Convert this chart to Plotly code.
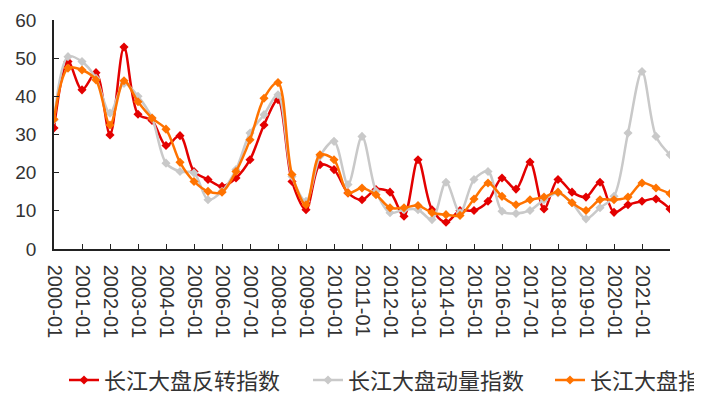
import plotly.graph_objects as go

# semi-annual periods, 2000-01 .. 2022-01
periods = []
for y in range(2000, 2022):
    periods.append(f"{y}-01")
    periods.append(f"{y}-07")
periods.append("2022-01")

tick_labels = [f"{y}-01" for y in range(2000, 2022)]

reversal = [31.7, 49.1, 41.7, 46.2, 29.9, 52.9, 35.3, 33.7, 27.1, 29.7,
            20.3, 18.2, 16.4, 18.6, 23.4, 32.5, 39.1, 17.7, 10.3, 22.1,
            20.8, 14.7, 12.9, 15.6, 14.9, 8.6, 23.4, 10.3, 7.0, 10.1,
            10.1, 12.5, 18.6, 15.7, 22.8, 10.5, 18.2, 14.9, 13.6, 17.5,
            9.6, 11.6, 12.5, 13.1, 10.5]

momentum = [33.8, 50.4, 49.1, 44.7, 35.6, 43.4, 40.0, 34.3, 22.5, 20.3,
            19.9, 12.9, 15.1, 20.8, 30.4, 35.2, 40.4, 19.0, 12.5, 24.3,
            28.2, 16.9, 29.5, 15.1, 9.5, 10.3, 10.3, 7.7, 17.5, 9.5,
            18.2, 20.3, 9.9, 9.3, 10.1, 12.9, 14.7, 12.1, 7.9, 10.8,
            13.8, 30.4, 46.5, 29.5, 24.7]

bigcap = [34.0, 47.4, 46.9, 44.3, 32.5, 44.1, 38.6, 34.3, 31.4, 22.7,
          17.7, 15.1, 14.9, 20.3, 28.6, 39.5, 43.6, 19.5, 11.6, 24.7,
          23.4, 14.7, 16.0, 14.2, 10.8, 10.8, 11.4, 9.5, 9.0, 8.8,
          13.1, 17.3, 13.8, 11.6, 12.9, 13.6, 14.9, 12.1, 10.1, 12.9,
          12.9, 13.6, 17.3, 16.0, 14.5]

series_names = ["长江大盘反转指数", "长江大盘动量指数", "长江大盘指数"]
series_colors = ["#E30000", "#C9C9C9", "#FF7300"]

x = list(range(len(periods)))
tickvals = [periods.index(t) for t in tick_labels] + [len(periods) - 1]
ticktext = tick_labels + [""]

fig = go.Figure()
legend_ids = ["legend", "legend2", "legend3"]
for name, vals, col, lg in zip(series_names, [reversal, momentum, bigcap], series_colors, legend_ids):
    fig.add_trace(go.Scatter(
        x=x, y=vals, name=name, mode="lines+markers",
        line=dict(color=col, width=2.5, shape="spline", smoothing=0.9),
        marker=dict(symbol="diamond", size=7, color=col),
        customdata=periods, legend=lg,
        hovertemplate="%{customdata}: %{y}<extra>" + name + "</extra>",
    ))

# the page body adds an 8px offset; size the figure to fit the window
OFF = 8
W, H = 702 - OFF, 399 - OFF
ml, mr, mt, mb = 54 - OFF, 32, 20 - OFF, 149.5
pw = W - ml - mr
ph = H - mt - mb

def px_to_paper_x(px):
    return (px - OFF - ml) / pw

def px_to_paper_y(py):
    return (H - mb - (py - OFF)) / ph

legend_font = dict(family="Noto Sans CJK SC", size=22, color="#333333")
common = dict(orientation="h", xanchor="left", yanchor="middle",
              font=legend_font, bgcolor="rgba(0,0,0,0)", borderwidth=0,
              itemwidth=30, tracegroupgap=0)

fig.update_layout(
    width=W, height=H,
    margin=dict(l=ml, r=mr, t=mt, b=mb, autoexpand=False),
    paper_bgcolor="white", plot_bgcolor="white",
    font=dict(family="Liberation Sans, Arial", color="#333333"),
    showlegend=True,
    legend=dict(x=px_to_paper_x(64), y=px_to_paper_y(381), **common),
    legend2=dict(x=px_to_paper_x(308), y=px_to_paper_y(381), **common),
    legend3=dict(x=px_to_paper_x(550), y=px_to_paper_y(381), **common),
    xaxis=dict(
        range=[0, len(periods) - 1],
        tickmode="array", tickvals=tickvals, ticktext=ticktext,
        tickangle=90, ticks="inside", ticklen=5, tickwidth=1.2, tickcolor="#222",
        showline=True, linecolor="#222", linewidth=1.5,
        showgrid=False, zeroline=False, automargin=False,
        tickfont=dict(family="Liberation Sans, Arial", size=20, color="#333333"),
        ticklabelstandoff=10,
    ),
    yaxis=dict(
        range=[0, 60], tickvals=[0, 10, 20, 30, 40, 50, 60],
        ticks="inside", ticklen=5, tickwidth=1.2, tickcolor="#222",
        showline=True, linecolor="#222", linewidth=1.5,
        showgrid=False, zeroline=False, automargin=False,
        tickfont=dict(family="Liberation Sans, Arial", size=19, color="#333333"),
        ticklabelstandoff=12,
    ),
)

fig.write_html("out.html")
